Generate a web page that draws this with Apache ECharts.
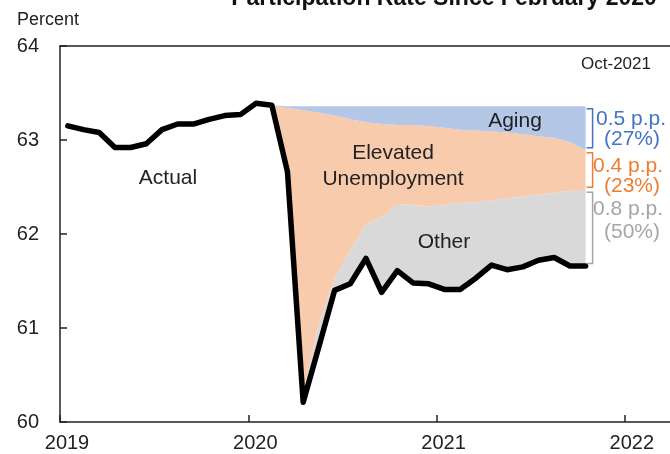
<!DOCTYPE html>
<html>
<head>
<meta charset="utf-8">
<script src="https://cdn.jsdelivr.net/npm/echarts@6/dist/echarts.min.js"></script>
<style>
html,body{margin:0;padding:0;background:#fff;}
#chart{width:670px;height:454px;}
</style>
</head>
<body>
<div id="chart"></div>
<script>
// ---- data ----
const months = ['2019-01','2019-02','2019-03','2019-04','2019-05','2019-06','2019-07','2019-08','2019-09','2019-10','2019-11','2019-12',
  '2020-01','2020-02','2020-03','2020-04','2020-05','2020-06','2020-07','2020-08','2020-09','2020-10','2020-11','2020-12',
  '2021-01','2021-02','2021-03','2021-04','2021-05','2021-06','2021-07','2021-08','2021-09','2021-10'];
const actual = [63.15,63.11,63.08,62.92,62.92,62.96,63.11,63.17,63.17,63.22,63.26,63.27,
  63.39,63.37,62.66,60.21,60.80,61.40,61.47,61.74,61.38,61.61,61.48,61.47,
  61.41,61.41,61.53,61.67,61.62,61.65,61.72,61.75,61.66,61.66];
// decomposition of the gap, Feb 2020 .. Oct 2021
const decompStart = '2020-02';
const other        = [0,0,0.10,0.25,0.12,0.36,0.36,0.80,0.71,0.83,0.82,0.90,0.92,0.81,0.69,0.76,0.75,0.70,0.69,0.80,0.81];
const unemployment = [0,0.68,3.01,2.24,1.74,1.39,1.09,0.99,0.84,0.85,0.86,0.82,0.78,0.76,0.73,0.70,0.66,0.62,0.58,0.52,0.42];
const aging        = [0,0.02,0.04,0.07,0.10,0.14,0.17,0.19,0.20,0.20,0.21,0.23,0.25,0.26,0.27,0.28,0.30,0.32,0.34,0.38,0.47];
const xTickLabels = ['2019','2020','2021','2022'];
const yTickLabels = ['60','61','62','63','64'];
const shareLabels = [['0.5 p.p.','(27%)'],['0.4 p.p.','(23%)'],['0.8 p.p.','(50%)']];

// ---- helpers ----
function monthToX(m){ const p=m.split('-'); return (+p[0]) + ((+p[1]) - 0.5)/12; }
const xs = months.map(monthToX);
const i0 = months.indexOf(decompStart);
// stacked series: value first (stacked dimension), time position second
const baseData = [], otherData = [], unempData = [], agingData = [];
for (let k = 0; k < other.length; k++) {
  const x = xs[i0 + k];
  baseData.push([actual[i0 + k], x]);
  otherData.push([other[k], x]);
  unempData.push([unemployment[k], x]);
  agingData.push([aging[k], x]);
}
const actualData = xs.map((x, i) => [x, actual[i]]);

const FONT = 'Liberation Sans, Arial, sans-serif';
const C_BLUE = '#B4C7E7', C_PEACH = '#F8CBAD', C_GRAY = '#D9D9D9';
const T_BLUE = '#4472C4', T_ORANGE = '#ED7D31', T_GRAY = '#A5A5A5';

const chart = echarts.init(document.getElementById('chart'), null, {renderer:'canvas'});
const stackSeries = (name, data, color) => ({
  name, type:'line', stack:'gap', data, dimensions:['v','t'], encode:{x:'t', y:'v'},
  showSymbol:false, symbol:'none', silent:true,
  lineStyle:{opacity:0, width:0}, areaStyle: color ? {color, opacity:1} : undefined, z:2
});
chart.setOption({
  animation:false,
  backgroundColor:'#fff',
  grid:{left:60, right:0, top:46, bottom:32, containLabel:false},
  xAxis:[{
    type:'value', min:2019, max:2022.24, interval:1,
    axisLine:{show:true, lineStyle:{color:'#222', width:1.5}},
    axisTick:{show:true, inside:true, length:7, lineStyle:{color:'#222', width:1.5}},
    splitLine:{show:false},
    axisLabel:{fontFamily:FONT, fontSize:20, color:'#222', margin:11, padding:[0,0,0,14],
      showMaxLabel:false,
      formatter:v => { const idx = Math.round(v - 2019); return (Math.abs(v - Math.round(v)) < 1e-6 && xTickLabels[idx]) ? xTickLabels[idx] : ''; }}
  },{
    type:'value', min:2019, max:2022.24, position:'top',
    axisLine:{show:true, lineStyle:{color:'#222', width:1.5}},
    axisTick:{show:false}, axisLabel:{show:false}, splitLine:{show:false}
  }],
  yAxis:{
    type:'value', min:60, max:64, interval:1,
    axisLine:{show:true, lineStyle:{color:'#222', width:1.5}},
    axisTick:{show:true, inside:true, length:7, lineStyle:{color:'#222', width:1.5}},
    splitLine:{show:false},
    axisLabel:{fontFamily:FONT, fontSize:20, color:'#222', margin:21,
      formatter:v => yTickLabels[Math.round(v - 60)] || ''}
  },
  series:[
    stackSeries('base', baseData, null),
    stackSeries('Other', otherData, C_GRAY),
    stackSeries('Elevated Unemployment', unempData, C_PEACH),
    stackSeries('Aging', agingData, C_BLUE),
    {name:'Actual', type:'line', data:actualData, showSymbol:false, symbol:'none', silent:true,
      lineStyle:{color:'#000', width:5.5, cap:'round', join:'round'}, z:5}
  ]
});

// annotations
const n = other.length - 1;
const xEnd = xs[i0 + n];
const yBase = actual[i0 + n];
const yOtherTop = yBase + other[n];
const yUnTop = yOtherTop + unemployment[n];
const yAgTop = yUnTop + aging[n];
function px(x, y){ return chart.convertToPixel({xAxisIndex:0, yAxisIndex:0}, [x, y]); }
function bracket(id, vTop, vBot, color){
  const a = px(xEnd, vTop), b = px(xEnd, vBot);
  const x0 = a[0] + 1, x1 = a[0] + 7;
  return {type:'polyline', id, silent:true, z:10,
    shape:{points:[[x0, a[1] + 2.5],[x1, a[1] + 2.5],[x1, b[1] - 2.5],[x0, b[1] - 2.5]]},
    style:{stroke:color, lineWidth:1.5, fill:null}};
}
function txt(id, text, x, y, size, color, align, weight){
  return {type:'text', id, silent:true, z:20, x, y,
    style:{text, fontFamily:FONT, fontSize:size, fill:color, align:align||'center', verticalAlign:'middle', fontWeight:weight||'normal'}};
}
chart.setOption({
  graphic:[
    {type:'text', id:'title', silent:true, z:20, x:444, y:10,
      style:{text:'Participation Rate Since February 2020', fontFamily:FONT, fontSize:23, fontWeight:'bold', fill:'#111', align:'center', verticalAlign:'bottom'}},
    txt('pct', 'Percent', 17, 20, 18, '#222', 'left'),
    txt('oct', 'Oct-2021', 616, 64, 17, '#222'),
    txt('actual', 'Actual', 168, 178, 21, '#222'),
    txt('elev1', 'Elevated', 393, 153, 21, '#222'),
    txt('elev2', 'Unemployment', 393, 179, 21, '#222'),
    txt('aging', 'Aging', 515, 121, 21, '#222'),
    txt('other', 'Other', 444, 242, 21, '#222'),
    bracket('bAging', yAgTop, yUnTop, T_BLUE),
    bracket('bUnemp', yUnTop, yOtherTop, T_ORANGE),
    bracket('bOther', yOtherTop, yBase, T_GRAY),
    txt('s1a', shareLabels[0][0], 596, 119, 21, T_BLUE, 'left'),
    txt('s1b', shareLabels[0][1], 632, 139, 21, T_BLUE),
    txt('s2a', shareLabels[1][0], 593, 166, 21, T_ORANGE, 'left'),
    txt('s2b', shareLabels[1][1], 632, 186, 21, T_ORANGE),
    txt('s3a', shareLabels[2][0], 593, 209, 21, T_GRAY, 'left'),
    txt('s3b', shareLabels[2][1], 632, 232, 21, T_GRAY)
  ]
});
</script>
</body>
</html>
